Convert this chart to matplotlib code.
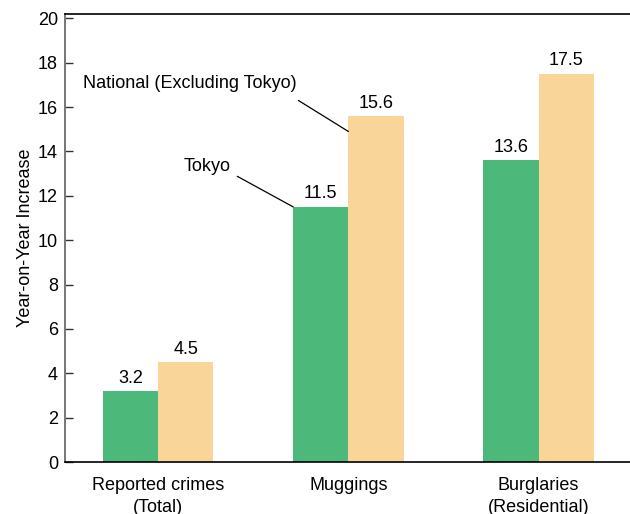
import numpy as np
import matplotlib.pyplot as plt

plt.rcParams['font.family'] = ['Liberation Sans', 'DejaVu Sans']

# --- data ---
categories = ["Reported crimes\n(Total)", "Muggings", "Burglaries\n(Residential)"]
tokyo = [3.2, 11.5, 13.6]
national = [4.5, 15.6, 17.5]

GREEN = "#4cb87a"
PEACH = "#f9d59a"
W = 0.29

fig = plt.figure(figsize=(6.3, 5.14), dpi=100)
ax = fig.add_axes([0.103, 0.101, 0.897, 0.872])

x = np.arange(len(categories))
b1 = ax.bar(x - W / 2, tokyo, W, color=GREEN)
b2 = ax.bar(x + W / 2, national, W, color=PEACH)

for bars in (b1, b2):
    for rect in bars:
        h = rect.get_height()
        ax.text(rect.get_x() + rect.get_width() / 2, h + 0.2, f"{h:.1f}",
                ha="center", va="bottom", fontsize=13)

# --- series labels with leader lines ---
ax.text(0.38, 13.3, "Tokyo", ha="right", va="center", fontsize=13)
ax.annotate("", xy=(1 - W, tokyo[1]), xytext=(0.416, 12.88),
            arrowprops=dict(arrowstyle="-", color="black", lw=0.9,
                            shrinkA=0, shrinkB=0))
ax.text(-0.395, 17.07, "National (Excluding Tokyo)", ha="left", va="center",
        fontsize=13)
ax.annotate("", xy=(1, 14.9), xytext=(0.737, 16.3),
            arrowprops=dict(arrowstyle="-", color="black", lw=0.9,
                            shrinkA=0, shrinkB=0))

# --- axes styling ---
ax.set_xlim(-0.49, 2.48)
ax.set_ylim(0, 20.2)
ax.set_yticks(range(0, 21, 2))
ax.set_xticks(x)
ax.set_xticklabels(categories, fontsize=13, linespacing=1.35)
ax.tick_params(axis="x", length=0, pad=11)
ax.tick_params(axis="y", direction="in", length=6, width=1, labelsize=13,
               pad=5, color="#333333")
ax.set_ylabel("Year-on-Year Increase", fontsize=13, labelpad=3)

ax.spines["right"].set_visible(False)
ax.spines["left"].set_color("#777777")
ax.spines["left"].set_linewidth(1.4)
ax.spines["top"].set_linewidth(1.2)
ax.spines["bottom"].set_linewidth(1.2)

fig.savefig("out.png", dpi=100)
